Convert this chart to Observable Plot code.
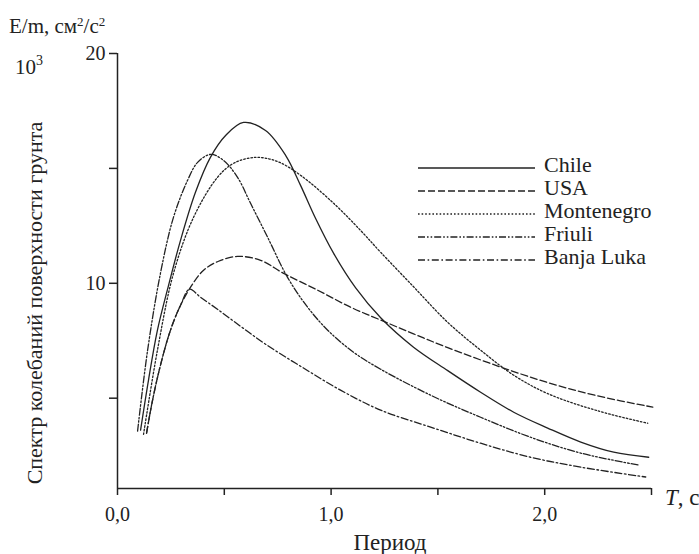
<!DOCTYPE html>
<html>
<head>
<meta charset="utf-8">
<script src="https://cdn.jsdelivr.net/npm/d3@7"></script>
<script src="https://cdn.jsdelivr.net/npm/@observablehq/plot@0.6"></script>
<style>
  html, body { margin: 0; padding: 0; background: #fff; }
  #chart { position: relative; width: 699px; height: 554px; }
</style>
</head>
<body>
<div id="chart"></div>
<script>
// ---- data (period T in s, E/m in 10^3 cm²/s²) ----
const seriesNames = ["Chile", "USA", "Montenegro", "Friuli", "Banja Luka"];

const chileT = [0.108, 0.145, 0.187, 0.239, 0.295, 0.365, 0.435, 0.506, 0.590, 0.693, 0.787, 0.857, 0.927, 1.012, 1.115, 1.232, 1.386, 1.546, 1.700, 1.855, 2.014, 2.169, 2.323, 2.487];
const chileE = [3.61, 5.78, 7.96, 9.91, 11.87, 13.96, 15.48, 16.43, 17.00, 16.65, 15.57, 14.26, 12.83, 11.30, 9.80, 8.50, 7.22, 6.20, 5.26, 4.39, 3.70, 3.09, 2.65, 2.43];

const usaT = [0.136, 0.164, 0.201, 0.248, 0.295, 0.342, 0.403, 0.473, 0.562, 0.670, 0.778, 0.937, 1.091, 1.232, 1.386, 1.546, 1.780, 2.014, 2.248, 2.506];
const usaE = [3.48, 4.91, 6.43, 7.96, 9.04, 9.83, 10.57, 10.96, 11.17, 11.00, 10.43, 9.70, 8.96, 8.40, 7.80, 7.20, 6.40, 5.68, 5.10, 4.61];

const monT = [0.122, 0.187, 0.262, 0.356, 0.468, 0.543, 0.646, 0.749, 0.857, 1.012, 1.138, 1.232, 1.386, 1.546, 1.700, 1.855, 2.014, 2.248, 2.482];
const monE = [3.43, 7.09, 10.43, 12.87, 14.61, 15.22, 15.48, 15.30, 14.70, 13.48, 12.30, 11.35, 9.85, 8.30, 7.09, 6.00, 5.20, 4.45, 3.91];

const friT = [0.094, 0.141, 0.201, 0.262, 0.328, 0.375, 0.436, 0.496, 0.562, 0.623, 0.703, 0.796, 0.890, 0.984, 1.105, 1.232, 1.466, 1.700, 1.934, 2.169, 2.440];
const friE = [3.57, 7.09, 10.43, 12.87, 14.48, 15.26, 15.61, 15.35, 14.61, 13.48, 12.00, 10.26, 8.96, 7.96, 7.00, 6.26, 5.13, 4.17, 3.30, 2.61, 2.09];

const banT = [0.136, 0.164, 0.201, 0.248, 0.295, 0.337, 0.389, 0.468, 0.576, 0.693, 0.857, 1.044, 1.232, 1.466, 1.700, 1.934, 2.169, 2.473];
const banE = [3.48, 4.91, 6.43, 7.96, 9.04, 9.74, 9.39, 8.87, 8.13, 7.35, 6.39, 5.35, 4.48, 3.74, 3.04, 2.43, 2.00, 1.57];

const seriesT = [chileT, usaT, monT, friT, banT];
const seriesE = [chileE, usaE, monE, friE, banE];
const dashes = [null, "7,3", "1.6,2", "7,2,1.6,2,1.6,2", "7,2.6,1.6,2.6"];

const xTicks = [0, 0.5, 1, 1.5, 2, 2.5];
const xTickLabels = ["0,0", "", "1,0", "", "2,0", ""];
const yTicks = [5, 10, 15, 20];
const yTickLabels = ["", "10", "", "20"];
const yMin = 1.07, yMax = 20;

// ---- build table ----
const rows = seriesNames.map((name, i) =>
  seriesT[i].map((t, j) => ({series: name, T: t, E: seriesE[i][j]}))
);

const ink = "#222";
const serif = "'Liberation Serif', 'Times New Roman', serif";

const plot = Plot.plot({
  width: 699,
  height: 554,
  marginLeft: 117,
  marginRight: 48,
  marginTop: 53,
  marginBottom: 66,
  style: {fontFamily: serif, fontSize: "20px", color: ink, background: "#fff"},
  x: {domain: [0, 2.5]},
  y: {domain: [yMin, yMax]},
  marks: [
    Plot.ruleX([0], {stroke: ink, strokeWidth: 1.5}),
    Plot.ruleY([yMin], {stroke: ink, strokeWidth: 1.5}),
    Plot.axisX({ticks: xTicks, tickSize: 7, tickPadding: 11, label: null,
      tickFormat: d => xTickLabels[xTicks.indexOf(d)], fontSize: 20, strokeWidth: 1.5}),
    Plot.axisY({ticks: yTicks, tickSize: 8, tickPadding: 4, label: null,
      tickFormat: d => yTickLabels[yTicks.indexOf(d)], fontSize: 20, strokeWidth: 1.5}),
    ...rows.map((r, i) => Plot.line(r, {
      x: "T", y: "E", stroke: ink, strokeWidth: 1.3,
      strokeDasharray: dashes[i] || undefined, curve: "catmull-rom"
    }))
  ]
});

document.getElementById("chart").appendChild(plot);

// ---- extra texts and legend ----
const svg = d3.select(plot);
const xs = plot.scale("x");
const x0 = xs.apply(0), x1 = xs.apply(2.5);

const txt = svg.append("g").attr("fill", ink).attr("font-family", serif).attr("text-anchor", "start");

// y unit
const unit = txt.append("text").attr("x", 9).attr("y", 33).attr("font-size", 21);
unit.append("tspan").text("E/m, см");
unit.append("tspan").attr("font-size", 13).attr("dy", -7).text("2");
unit.append("tspan").attr("dy", 7).text("/с");
unit.append("tspan").attr("font-size", 13).attr("dy", -7).text("2");

const mult = txt.append("text").attr("x", 15).attr("y", 74).attr("font-size", 21);
mult.append("tspan").text("10");
mult.append("tspan").attr("font-size", 14).attr("dy", -9).text("3");

// y title
txt.append("text")
  .attr("transform", `translate(42,303) rotate(-90)`)
  .attr("text-anchor", "middle").attr("font-size", 22)
  .text("Спектр колебаний поверхности грунта");

// x title
txt.append("text").attr("x", (x0 + x1) / 2 + 6).attr("y", 550)
  .attr("text-anchor", "middle").attr("font-size", 23).text("Период");

// T, c
const tc = txt.append("text").attr("x", x1 + 14).attr("y", 505).attr("font-size", 23);
tc.append("tspan").attr("font-style", "italic").text("T");
tc.append("tspan").text(", c");

// legend
const leg = svg.append("g").attr("font-family", serif).attr("text-anchor", "start");
seriesNames.forEach((name, i) => {
  const by = 172 + i * 23;
  leg.append("line").attr("x1", 418).attr("x2", 535).attr("y1", by - 4).attr("y2", by - 4)
    .attr("stroke", ink).attr("stroke-width", 1.4)
    .attr("stroke-dasharray", dashes[i] || null);
  leg.append("text").attr("x", 544).attr("y", by).attr("font-size", 22)
    .attr("fill", ink).text(name);
});
</script>
</body>
</html>
